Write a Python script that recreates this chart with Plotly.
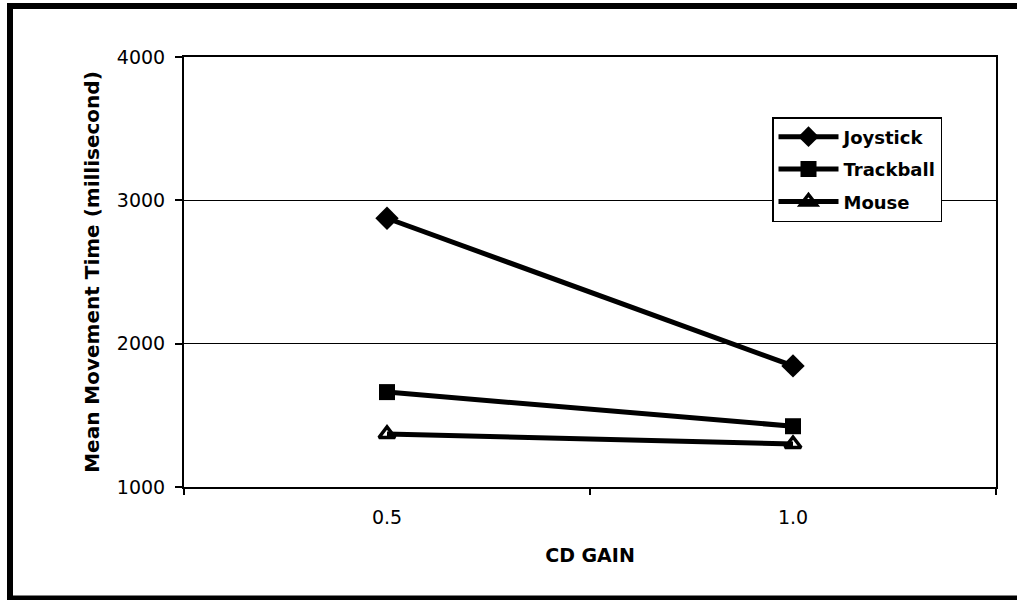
import plotly.graph_objects as go

categories = ["0.5", "1.0"]
joystick = [2875, 1845]
trackball = [1662, 1424]
mouse = [1370, 1300]
y_ticks = [1000, 2000, 3000, 4000]

FONT = "DejaVu Sans, Liberation Sans, Arial, sans-serif"

fig = go.Figure()
series = [
    ("Joystick", joystick, "diamond", 18),
    ("Trackball", trackball, "square", 16),
    ("Mouse", mouse, "triangle-up-open", 14),
]
for i, (name, vals, sym, sz) in enumerate(series):
    fig.add_trace(go.Scatter(
        x=categories, y=vals, name=name, mode="lines+markers",
        line=dict(color="black", width=5),
        marker=dict(symbol=sym, size=sz, color="black",
                    line=dict(color="black", width=3.5 if "open" in sym else 0)),
        legendgroup=f"g{i}",
    ))

L, R, T, B = 184, 21, 57, 113
W, H = 1017, 600
pw = W - L - R
ph = H - T - B

def px(x):
    return (x - L) / pw

def py(y):
    return (H - B - y) / ph

fig.update_layout(
    width=W, height=H,
    margin=dict(l=L, r=R, t=T, b=B),
    paper_bgcolor="white", plot_bgcolor="white",
    font=dict(family=FONT, color="black", size=17),
    showlegend=True,
    legend=dict(
        x=px(772), y=py(117), xanchor="left", yanchor="top",
        bordercolor="black", borderwidth=1.5, bgcolor="white",
        font=dict(family=FONT, size=18, color="black", weight="bold"),
        itemwidth=60, tracegroupgap=6, traceorder="grouped",
    ),
    xaxis=dict(
        type="category", range=[-0.5, 1.5],
        tickson="boundaries", ticks="outside", ticklen=6, tickwidth=1.5, tickcolor="black",
        showline=True, mirror=True, linecolor="black", linewidth=2,
        showgrid=False, zeroline=False, ticklabelstandoff=12,
        tickfont=dict(family=FONT, size=19, color="black"),
        title=dict(text="<b>CD GAIN</b>", font=dict(family=FONT, size=19, color="black"), standoff=22),
    ),
    yaxis=dict(
        range=[1000, 4000], tickvals=y_ticks, ticktext=[str(v) for v in y_ticks],
        ticks="outside", ticklen=7, tickwidth=1.5, tickcolor="black",
        showline=True, mirror=True, linecolor="black", linewidth=2,
        showgrid=True, gridcolor="black", gridwidth=1.2, zeroline=False, ticklabelstandoff=6,
        tickfont=dict(family=FONT, size=19, color="black"),
        title=dict(text="<b>Mean Movement Time (millisecond)</b>", font=dict(family=FONT, size=20, color="black"), standoff=12),
    ),
    shapes=[
        dict(type="line", xref="paper", yref="paper", x0=px(10), x1=px(10), y0=py(3), y1=py(600), line=dict(color="black", width=6)),
        dict(type="line", xref="paper", yref="paper", x0=px(7), x1=px(1017), y0=py(6), y1=py(6), line=dict(color="black", width=6)),
        dict(type="line", xref="paper", yref="paper", x0=px(7), x1=px(1017), y0=py(598), y1=py(598), line=dict(color="black", width=5)),
    ],
)

fig.write_html("out.html", config={"displayModeBar": False},
               post_script="document.body.style.margin='0';document.body.style.padding='0';")
